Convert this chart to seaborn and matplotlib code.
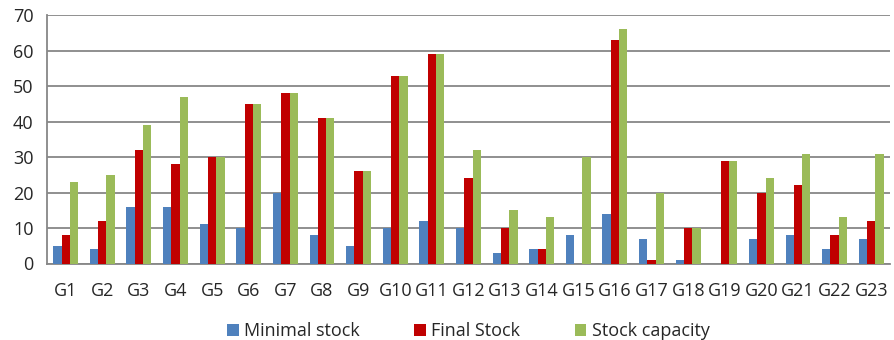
import matplotlib
matplotlib.use("Agg")
import matplotlib.pyplot as plt
import seaborn as sns
import numpy as np
import pandas as pd

groups = [f"G{i}" for i in range(1, 24)]
minimal_stock = [5, 4, 16, 16, 11, 10, 20, 8, 5, 10, 12, 10, 3, 4, 8, 14, 7, 1, 0, 7, 8, 4, 7]
final_stock = [8, 12, 32, 28, 30, 45, 48, 41, 26, 53, 59, 24, 10, 4, 0, 63, 1, 10, 29, 20, 22, 8, 12]
stock_capacity = [23, 25, 39, 47, 30, 45, 48, 41, 26, 53, 59, 32, 15, 13, 30, 66, 20, 10, 29, 24, 31, 13, 31]
series_names = ["Minimal stock", "Final Stock", "Stock capacity"]
colors = ["#4F81BD", "#C00000", "#9BBB59"]
y_ticks = list(range(0, 71, 10))

df = pd.DataFrame({
    "group": groups * 3,
    "value": minimal_stock + final_stock + stock_capacity,
    "series": np.repeat(series_names, len(groups)),
})

sns.set_style("white")
plt.rcParams["font.family"] = ["Open Sans", "DejaVu Sans"]

fig, ax = plt.subplots(figsize=(8.94, 3.4), dpi=100)
fig.subplots_adjust(left=0.053, right=0.995, top=0.955, bottom=0.225)

sns.barplot(data=df, x="group", y="value", hue="series", palette=colors,
            width=0.68, linewidth=0, saturation=1, ax=ax, zorder=3)

grid_c = "#878787"
ax.set_ylim(0, 70)
ax.set_yticks(y_ticks)
ax.set_xlim(-0.5, len(groups) - 0.5)
ax.yaxis.grid(True, color=grid_c, linewidth=1.3, zorder=0)
ax.set_axisbelow(True)
for side in ["top", "right"]:
    ax.spines[side].set_visible(False)
for side in ["left", "bottom"]:
    ax.spines[side].set_color(grid_c)
    ax.spines[side].set_linewidth(1.3)

ax.set_xticks(np.arange(-0.5, len(groups), 1.0), minor=True)
ax.tick_params(axis="x", which="major", length=0, labelsize=13, pad=13)
ax.tick_params(axis="x", which="minor", length=6, width=1.3, color=grid_c, direction="out")
ax.tick_params(axis="y", length=6, width=1.3, color=grid_c, labelsize=13, pad=4)
ax.set_xlabel("")
ax.set_ylabel("")

ax.legend(loc="upper center", bbox_to_anchor=(0.5, -0.17), ncol=3, frameon=False,
          fontsize=13, handlelength=0.65, handleheight=0.65, handletextpad=0.3,
          columnspacing=3.0)

fig.savefig("out.png", dpi=100)
